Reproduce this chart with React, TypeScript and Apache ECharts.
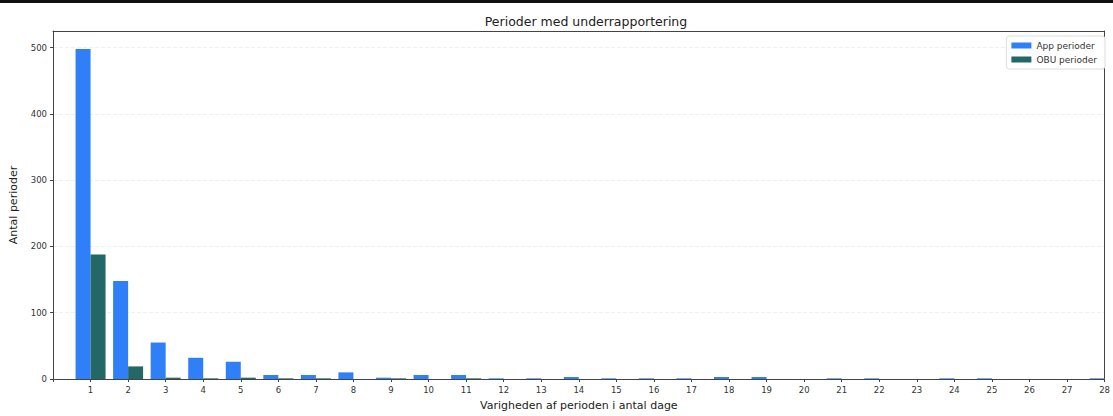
import React, { useEffect, useRef } from "react";
import * as echarts from "echarts";

const days = [1,2,3,4,5,6,7,8,9,10,11,12,13,14,15,16,17,18,19,20,21,22,23,24,25,26,27,28];
const appValues = [498,148,55,32,26,6,6,10,2,6,6,1,1,3,1,1,1,3,3,0,1,1,0,1,1,0,0,1];
const obuValues = [188,19,2,1,2,1,1,0,1,0,1,0,0,0,0,0,0,0,0,0,0,0,0,0,0,0,0,0];
const yTicks = [0,100,200,300,400,500];

const FONT = "DejaVu Sans";
const SPINE = "#444";

export default function App() {
  const ref = useRef<HTMLDivElement>(null);
  useEffect(() => {
    if (!ref.current) return;
    const chart = echarts.init(ref.current, null, { renderer: "svg" });
    chart.setOption({
      animation: false,
      backgroundColor: "#ffffff",
      title: {
        text: "Perioder med underrapportering",
        left: 581,
        textAlign: "center",
        top: 10,
        textStyle: { fontFamily: FONT, fontSize: 12.5, fontWeight: "normal", color: "#222" },
      },
      graphic: [
        { type: "rect", left: 0, top: 0, shape: { width: 1113, height: 3 }, style: { fill: "#111" } },
      ],
      legend: {
        orient: "vertical",
        right: 8,
        top: 36,
        padding: [5, 8, 5, 5],
        itemGap: 5,
        itemWidth: 20,
        itemHeight: 6,
        icon: "rect",
        backgroundColor: "#fff",
        borderColor: "#ddd",
        borderWidth: 1,
        borderRadius: 3,
        textStyle: { fontFamily: FONT, fontSize: 9, color: "#333" },
        data: ["App perioder", "OBU perioder"],
      },
      grid: {
        left: 51,
        right: 2,
        top: 31,
        bottom: 32,
      },
      xAxis: [
        {
          type: "value",
          min: 0,
          max: 28,
          interval: 1,
          name: "Varigheden af perioden i antal dage",
          nameLocation: "middle",
          nameGap: 21,
          nameTextStyle: { fontFamily: FONT, fontSize: 11, color: "#222" },
          axisLine: { show: true, onZero: false, lineStyle: { color: SPINE } },
          axisTick: { show: true, length: 3, lineStyle: { color: SPINE } },
          axisLabel: {
            fontFamily: FONT,
            fontSize: 8.5,
            color: "#333",
            margin: 6,
            formatter: (v: number) => (v >= 1 && days.includes(v) ? String(v) : ""),
          },
          splitLine: { show: false },
        },
        {
          type: "value",
          position: "top",
          min: 0,
          max: 28,
          axisLine: { show: true, onZero: false, lineStyle: { color: SPINE } },
          axisTick: { show: false },
          axisLabel: { show: false },
          splitLine: { show: false },
        },
      ],
      yAxis: [
        {
          type: "value",
          min: 0,
          max: 525,
          interval: 100,
          name: "Antal perioder",
          nameLocation: "middle",
          nameGap: 34,
          nameTextStyle: { fontFamily: FONT, fontSize: 11, color: "#222" },
          axisLine: { show: true, onZero: false, lineStyle: { color: SPINE } },
          axisTick: { show: true, length: 3, lineStyle: { color: SPINE } },
          axisLabel: {
            fontFamily: FONT,
            fontSize: 8.5,
            color: "#333",
            margin: 6,
            showMaxLabel: false,
            formatter: (v: number) => (yTicks.includes(v) ? String(v) : ""),
          },
          splitLine: { show: true, lineStyle: { color: "#efefef", type: "dashed", width: 1 } },
        },
        {
          type: "value",
          position: "right",
          min: 0,
          max: 525,
          axisLine: { show: true, onZero: false, lineStyle: { color: SPINE } },
          axisTick: { show: false },
          axisLabel: { show: false },
          splitLine: { show: false },
        },
      ],
      series: [
        {
          name: "App perioder",
          type: "bar",
          barWidth: 15,
          barGap: "0%",
          itemStyle: { color: "#2f7ff8" },
          data: days.map((d, i) => [d, appValues[i]]),
        },
        {
          name: "OBU perioder",
          type: "bar",
          barWidth: 15,
          barGap: "0%",
          itemStyle: { color: "#236866" },
          data: days.map((d, i) => [d, obuValues[i]]),
        },
      ],
    });
    return () => chart.dispose();
  }, []);
  return (
    <div
      ref={ref}
      style={{ position: "fixed", left: 0, top: 0, width: 1113, height: 416 }}
    />
  );
}
